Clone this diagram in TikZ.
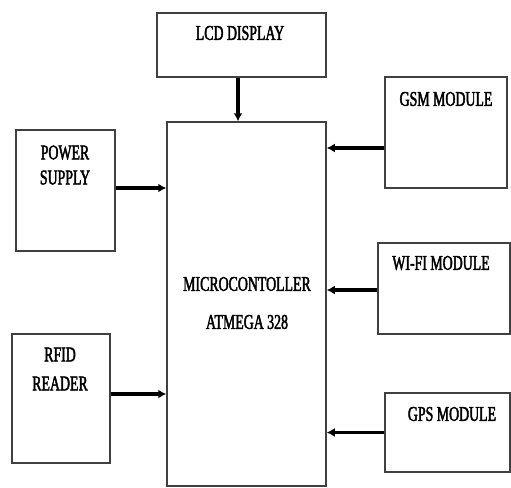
\documentclass[tikz,border=0pt]{standalone}
\usepackage{fontspec}
\newfontfamily\blkfont[FakeStretch=0.66,FakeBold=2]{Liberation Serif}
\usetikzlibrary{arrows.meta,positioning,calc}

\begin{document}
\begin{tikzpicture}[x=1pt,y=-1pt,>={Latex[length=8pt,width=9pt]},
  blk/.style={draw=black!75,line width=1.5pt,inner sep=0pt},
  txt/.style={font=\blkfont\fontsize{21}{24}\selectfont,align=center,inner sep=0pt},
  link/.style={->,line width=3.2pt}]
\useasboundingbox (0,0) rectangle (511,487);
% blocks
\node (lcd) [blk,minimum width=169pt,minimum height=64pt] at (241.5,45) {};
\node (mcu) [blk,minimum width=159pt,minimum height=364pt] at (246.5,304) {};
\node (pwr) [blk,minimum width=99pt,minimum height=121pt] at (65.5,190.5) {};
\node (rfid) [blk,minimum width=98pt,minimum height=129pt] at (61,398.5) {};
\node (gsm) [blk,minimum width=122pt,minimum height=111pt] at (446,132.5) {};
\node (wifi) [blk,minimum width=132pt,minimum height=91pt] at (444,288.5) {};
\node (gps) [blk,minimum width=125pt,minimum height=79pt] at (447.5,432.5) {};
% labels
\node (lcdtxt) [txt] at (240,33) {LCD DISPLAY};
\node (mcutxt) [txt] at (247,303) {MICROCONTOLLER\\[14pt]ATMEGA 328};
\node (pwrtxt) [txt] at (65,165) {POWER\\[1pt]SUPPLY};
\node (rfidtxt) [txt] at (60,369) {RFID\\[5pt]READER};
\node (gsmtxt) [txt] at (446,99) {GSM MODULE};
\node (wifitxt) [txt] at (441,263) {WI-FI MODULE};
\node (gpstxt) [txt] at (452,414) {GPS MODULE};
% connections
\draw[link] ([xshift=-3.5pt]lcd.south) -- ([xshift=-3.5pt]lcd.south |- mcu.north);
\draw[link] ([yshift=2.5pt]pwr.east) -- ([yshift=2.5pt]pwr.east -| mcu.west);
\draw[link] ([yshift=4.5pt]rfid.east) -- ([yshift=4.5pt]rfid.east -| mcu.west);
\draw[link] ([yshift=-15.5pt]gsm.west) -- ([yshift=-15.5pt]gsm.west -| mcu.east);
\draw[link] ([yshift=-1.5pt]wifi.west) -- ([yshift=-1.5pt]wifi.west -| mcu.east);
\draw[link] (gps.west) -- (gps.west -| mcu.east);
\end{tikzpicture}
\end{document}
